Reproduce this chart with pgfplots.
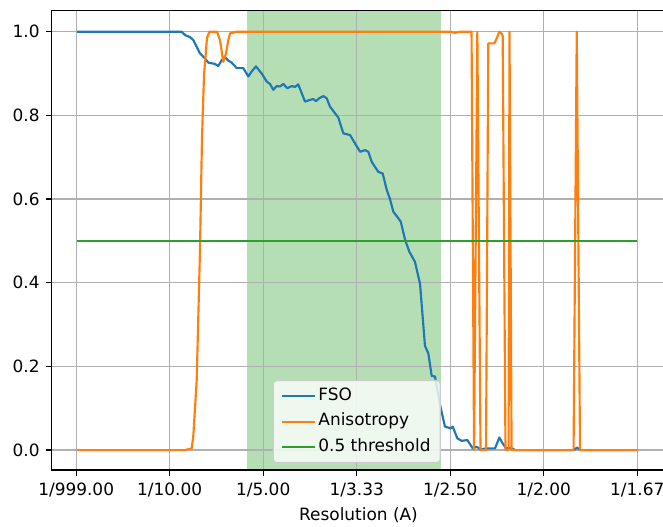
\documentclass[border=0pt]{standalone}
\usepackage{fontspec}
\setmainfont{DejaVu Sans}
\usepackage{pgfplots}
\pgfplotsset{compat=1.18}
\definecolor{tabblue}{HTML}{1F77B4}
\definecolor{taborange}{HTML}{FF7F0E}
\definecolor{tabgreen}{HTML}{2CA02C}
\definecolor{gridgray}{HTML}{B0B0B0}
\definecolor{legendedge}{HTML}{CCCCCC}
\begin{document}
\begin{tikzpicture}
\begin{axis}[
  name=ax,
  set layers,
  x=673.2pt, y=301.2pt,
  xmin=-0.0262, xmax=0.63, ymin=-0.0478, ymax=1.0502,
  axis line style={line width=0.9pt, black},
  tick align=outside,
  xtick pos=lower, ytick pos=left,
  major tick length=4.2pt,
  tick style={line width=0.9pt, black},
  grid=major,
  major grid style={line width=0.85pt, gridgray},
  xtick={0,0.1,0.2,0.3,0.4,0.5,0.6},
  xticklabels={1/999.00,1/10.00,1/5.00,1/3.33,1/2.50,1/2.00,1/1.67},
  ytick={0,0.2,0.4,0.6,0.8,1.0},
  yticklabels={0.0,0.2,0.4,0.6,0.8,1.0},
  tick label style={font=\fontsize{12.2}{14}\selectfont, text=black},
  xticklabel style={yshift=-1.5pt},
  yticklabel style={xshift=-1pt},
  label style={font=\fontsize{12.2}{14}\selectfont},
  xlabel={Resolution (A)},
  xlabel style={yshift=-0.5pt},
  legend cell align=left,
  legend image code/.code={\draw[#1] (0pt,0pt) -- (24pt,0pt);},
  legend style={at={(0.360,0.015)}, anchor=south west,
    draw=legendedge, line width=0.9pt, fill=white, fill opacity=0.8, text opacity=1,
    rounded corners=2.4pt, font=\fontsize{12.2}{14}\selectfont,
    inner xsep=5.5pt, inner ysep=4pt, row sep=4.5pt,
    nodes={inner sep=1.5pt, text height=8.5pt, text depth=2.5pt}},
]
\addplot[draw=none, fill=tabgreen, fill opacity=0.35, forget plot, on layer=axis background]
  coordinates {(0.1824,-0.0478) (0.3902,-0.0478) (0.3902,1.0502) (0.1824,1.0502)} -- cycle;

\addplot[tabblue, line width=1.55pt, line join=round] coordinates {
(0.001,1.0) (0.1128,1.0) (0.1164,0.992) (0.1217,0.987) (0.1252,0.980) (0.1289,0.964) (0.1324,0.948) (0.1378,0.936) (0.1413,0.926) (0.1484,0.923) (0.1520,0.918) (0.1556,0.932) (0.1591,0.939) (0.1627,0.931) (0.1663,0.926) (0.1717,0.913) (0.1787,0.913) (0.1841,0.893) (0.1877,0.905) (0.1923,0.917) (0.1984,0.900) (0.2037,0.881) (0.2073,0.875) (0.2108,0.861) (0.2144,0.870) (0.2180,0.869) (0.2215,0.875) (0.2258,0.865) (0.2305,0.870) (0.2340,0.868) (0.2375,0.874) (0.2412,0.853) (0.2447,0.833) (0.2500,0.837) (0.2536,0.839) (0.2565,0.834) (0.2600,0.841) (0.2643,0.846) (0.2679,0.841) (0.2714,0.821) (0.2768,0.805) (0.2803,0.795) (0.2857,0.757) (0.2929,0.753) (0.2982,0.733) (0.3036,0.713) (0.3090,0.717) (0.3124,0.713) (0.3160,0.689) (0.3231,0.665) (0.3278,0.661) (0.3321,0.622) (0.3356,0.600) (0.3391,0.570) (0.3445,0.554) (0.3471,0.546) (0.3517,0.503) (0.3563,0.474) (0.3623,0.450) (0.3659,0.415) (0.3677,0.398) (0.3730,0.249) (0.3766,0.231) (0.3802,0.177) (0.3837,0.176) (0.3891,0.108) (0.3944,0.056) (0.4005,0.052) (0.4027,0.056) (0.4076,0.028) (0.4123,0.022) (0.4183,0.024) (0.4241,0.004) (0.4283,0.008) (0.4319,0.002) (0.4390,0.004) (0.4479,0.004) (0.4525,0.030) (0.4561,0.016) (0.4596,0.004) (0.4647,0.006) (0.4675,0.002) (0.4700,0) (0.5320,0) (0.5356,0.006) (0.5390,0) (0.6,0)
};
\addlegendentry{FSO}

\addplot[taborange, line width=1.55pt, line join=round] coordinates {
(0.001,0) (0.1164,0) (0.1235,0.004) (0.1252,0.032) (0.1289,0.167) (0.1324,0.478) (0.1345,0.741) (0.1367,0.896) (0.1399,0.985) (0.1424,1.0) (0.1506,1.0) (0.1538,0.980) (0.1573,0.928) (0.1602,0.948) (0.1627,0.980) (0.1645,0.996) (0.1717,1.0) (0.4000,1.0) (0.4051,0.997) (0.4100,1.0) (0.4228,1.0) (0.4255,0) (0.4290,1.0) (0.4324,0) (0.4383,0) (0.4407,0.972) (0.4472,0.972) (0.4497,0.984) (0.4525,1.0) (0.4551,0.995) (0.4561,0.99) (0.4591,0) (0.4624,0) (0.4634,1.0) (0.4656,0) (0.5319,0) (0.5353,1.0) (0.5388,0) (0.6,0)
};
\addlegendentry{Anisotropy}

\addplot[tabgreen, line width=1.55pt] coordinates {(0.001,0.5) (0.6,0.5)};
\addlegendentry{0.5 threshold}
\end{axis}
\pgfresetboundingbox
\path[use as bounding box] ([xshift=-37.2pt,yshift=-40.3pt]ax.south west) rectangle ([xshift=440.1pt,yshift=7.7pt]ax.north west);
\end{tikzpicture}
\end{document}
